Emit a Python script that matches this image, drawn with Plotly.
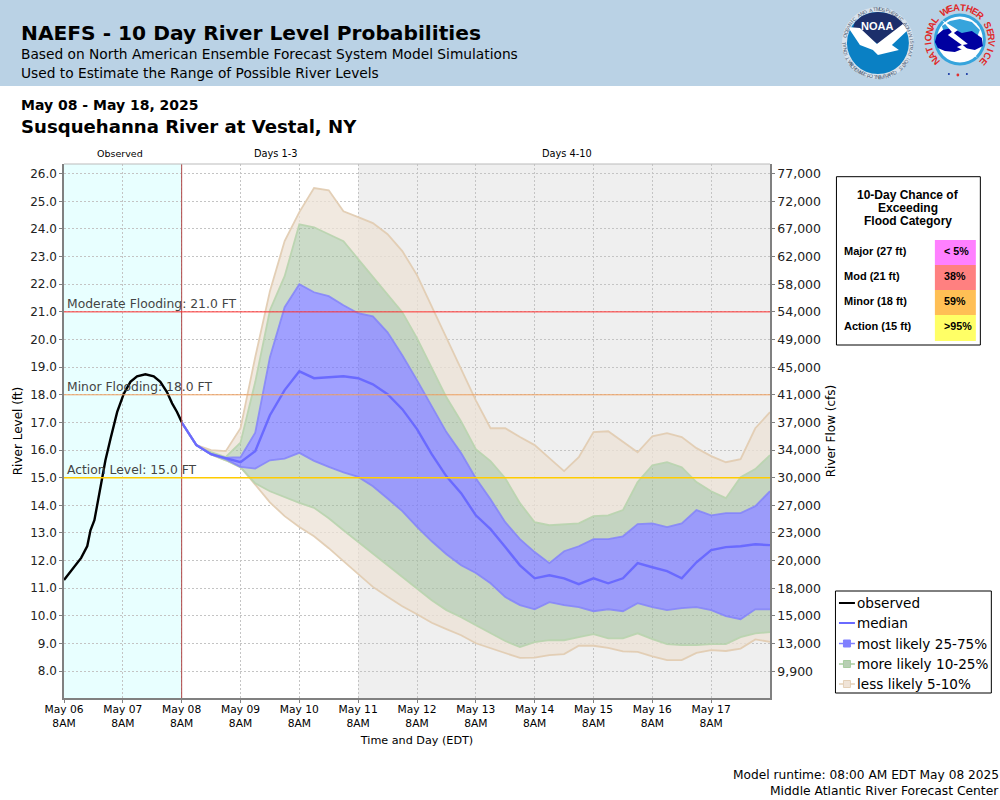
import math
import pandas as pd
import plotly.graph_objects as go

TITLE = "NAEFS - 10 Day River Level Probabilities"
SUB1 = "Based on North American Ensemble Forecast System Model Simulations"
SUB2 = "Used to Estimate the Range of Possible River Levels"
DATES = "May 08 - May 18, 2025"
STATION = "Susquehanna River at Vestal, NY"

obs_hours = [0, 3.3, 7, 9.5, 10.8, 12.4, 14, 15.6, 16.9, 19, 21.7, 24.4, 27.1, 29.8, 33.2, 36.6, 39.3, 42, 44.1, 46.1, 48]
observed = [11.3, 11.68, 12.1, 12.53, 13.1, 13.46, 14.19, 14.91, 15.63, 16.42, 17.38, 18.04, 18.47, 18.67, 18.74, 18.67, 18.47, 18.1, 17.69, 17.38, 17.02]

p95 = [17.0, 16.18, 16.0, 15.96, 16.79, 19.36, 21.75, 23.56, 24.61, 25.48, 25.4, 24.64, 24.43, 24.21, 23.81, 23.2, 22.33, 21.2, 20.05, 18.89, 17.8, 16.79, 16.79, 16.47, 16.18, 15.71, 15.24, 15.74, 16.65, 16.68, 16.29, 15.92, 16.5, 16.61, 16.47, 16.07, 15.78, 15.56, 15.67, 16.79, 17.37]
p90 = [17.0, 16.18, 15.93, 15.75, 16.27, 18.46, 21.06, 22.29, 24.17, 24.06, 23.81, 23.56, 22.91, 22.26, 21.6, 20.99, 20.05, 19.0, 17.91, 17.04, 16.03, 15.6, 14.98, 14.08, 13.39, 13.28, 13.32, 13.35, 13.61, 13.64, 13.83, 14.84, 15.45, 15.56, 15.38, 14.84, 14.51, 14.26, 15.02, 15.31, 15.82]
p75 = [17.0, 16.18, 15.88, 15.73, 15.74, 16.63, 19.36, 21.17, 22.0, 21.71, 21.57, 21.24, 20.95, 20.84, 20.26, 19.43, 18.53, 17.59, 16.65, 15.89, 14.98, 14.22, 13.39, 12.78, 12.31, 11.91, 12.34, 12.52, 12.78, 12.78, 12.88, 13.32, 13.35, 13.21, 13.35, 13.83, 13.64, 13.72, 13.72, 13.97, 14.51]
median = [17.0, 16.18, 15.85, 15.71, 15.56, 15.96, 17.26, 18.17, 18.85, 18.6, 18.64, 18.67, 18.6, 18.38, 18.02, 17.48, 16.76, 15.85, 15.05, 14.44, 13.64, 13.14, 12.49, 11.83, 11.36, 11.47, 11.36, 11.15, 11.36, 11.18, 11.36, 11.91, 11.76, 11.62, 11.36, 11.94, 12.38, 12.49, 12.52, 12.59, 12.56]
p25 = [17.0, 16.18, 15.84, 15.67, 15.39, 15.33, 15.63, 15.69, 15.9, 15.61, 15.39, 15.19, 15.03, 14.69, 14.25, 13.79, 13.22, 12.7, 12.23, 11.83, 11.55, 11.18, 10.68, 10.39, 10.24, 10.5, 10.39, 10.32, 10.17, 10.24, 10.17, 10.46, 10.32, 10.21, 10.28, 10.32, 10.21, 9.99, 9.88, 10.24, 10.24]
p10 = [17.0, 16.18, 15.84, 15.63, 15.37, 14.8, 14.51, 14.3, 14.09, 13.91, 13.53, 13.1, 12.68, 12.23, 11.81, 11.4, 10.97, 10.57, 10.21, 9.95, 9.66, 9.37, 9.09, 8.87, 9.05, 9.12, 9.12, 9.23, 9.34, 9.19, 9.19, 9.37, 9.16, 8.98, 8.94, 8.94, 8.98, 8.98, 9.23, 9.37, 9.41]
p5 = [17.0, 16.18, 15.84, 15.63, 15.39, 14.73, 14.11, 13.61, 13.22, 12.88, 12.45, 11.98, 11.51, 11.05, 10.69, 10.35, 10.06, 9.75, 9.52, 9.3, 9.01, 8.83, 8.65, 8.48, 8.49, 8.58, 8.62, 8.92, 8.92, 8.84, 8.72, 8.7, 8.54, 8.4, 8.4, 8.66, 8.76, 8.73, 8.82, 9.15, 9.06]

stage_ticks = [8, 9, 10, 11, 12, 13, 14, 15, 16, 17, 18, 19, 20, 21, 22, 23, 24, 25, 26]
flow_labels = ["9,900", "13,000", "15,000", "18,000", "20,000", "23,000", "27,000", "30,000", "34,000", "37,000", "41,000", "45,000", "49,000", "54,000", "58,000", "62,000", "67,000", "72,000", "77,000"]
day_ticks = ["May 06", "May 07", "May 08", "May 09", "May 10", "May 11", "May 12", "May 13", "May 14", "May 15", "May 16", "May 17"]

thresholds = [("Moderate Flooding: 21.0 FT", 21.0, "#FF3030", 1), ("Minor Flooding: 18.0 FT", 18.0, "#EFA060", 1), ("Action Level: 15.0 FT", 15.0, "#FFCC00", 1.4)]
flood_rows = ["Major (27 ft)", "Mod (21 ft)", "Minor (18 ft)", "Action (15 ft)"]
flood_chance = ["< 5%", "38%", "59%", ">95%"]
flood_colors = ["#FF80FF", "#FF8080", "#FFBF55", "#FFFF66"]
legend_names = ["observed", "median", "most likely 25-75%", "more likely 10-25%", "less likely 5-10%"]

L, R, T, B = 63.5, 770.0, 164.0, 698.0
def px(v): return (v - L) / (R - L)
def py(v): return (B - v) / (B - T)

start = pd.Timestamp("2025-05-06 08:00")
now = pd.Timestamp("2025-05-08 08:00")
end = pd.Timestamp("2025-05-18 08:00")
d3 = pd.Timestamp("2025-05-11 08:00")
fc_times = pd.date_range(now, end, freq="6h")
obs_times = [start + pd.Timedelta(hours=h) for h in obs_hours]
tick_times = [start + pd.Timedelta(days=i) for i in range(len(day_ticks))]

BLUE_F = "rgba(120,120,255,0.70)"
GREEN_F = "rgba(163,190,157,0.56)"
BEIGE_F = "rgba(236,226,214,0.75)"
BLUE_L = "rgba(130,130,250,0.85)"
GREEN_L = "rgba(185,212,175,0.95)"
BEIGE_L = "rgba(226,204,178,0.95)"
FONT = "DejaVu Sans"

fig = go.Figure()
bands = [("5%", p5, BEIGE_L, None, None), ("10%", p10, GREEN_L, "tonexty", BEIGE_F), ("25%", p25, BLUE_L, "tonexty", GREEN_F),
         ("75%", p75, BLUE_L, "tonexty", BLUE_F), ("90%", p90, GREEN_L, "tonexty", GREEN_F), ("95%", p95, BEIGE_L, "tonexty", BEIGE_F)]
for name, vals, lc, fill, fc in bands:
    fig.add_trace(go.Scatter(x=fc_times, y=vals, name=name, mode="lines", line=dict(color=lc, width=1.8),
                             fill=fill, fillcolor=fc, showlegend=False))
fig.add_trace(go.Scatter(x=fc_times, y=median, name="median", mode="lines", line=dict(color="#6A6AFF", width=2.4), showlegend=False))
fig.add_trace(go.Scatter(x=obs_times, y=observed, name="observed", mode="lines", line=dict(color="#000000", width=2.4), showlegend=False))
fig.add_trace(go.Scatter(x=[start], y=[None], yaxis="y2", showlegend=False, hoverinfo="skip"))

shapes, ann = [], []
def rect(x0, y0, x1, y1, fill=None, line=None, w=1, layer="below"):
    shapes.append(dict(type="rect", xref="paper", yref="paper", x0=px(x0), x1=px(x1), y0=py(y0), y1=py(y1),
                       fillcolor=fill, line=dict(color=line, width=w if line else 0), layer=layer))
def pline(x0, y0, x1, y1, color, w=1, layer="above"):
    shapes.append(dict(type="line", xref="paper", yref="paper", x0=px(x0), x1=px(x1), y0=py(y0), y1=py(y1),
                       line=dict(color=color, width=w), layer=layer))
def circle(cx, cy, r, fill, layer="above"):
    rect(cx - r, cy - r, cx + r, cy + r, fill=fill, layer=layer)
    shapes[-1]["type"] = "circle"
def poly(pts, fill):
    d = "M " + " L ".join(f"{px(a):.5f},{py(b):.5f}" for a, b in pts) + " Z"
    shapes.append(dict(type="path", xref="paper", yref="paper", path=d, fillcolor=fill, line=dict(width=0), layer="above"))
def text(x, y, s, size=12, color="#000", anchor="left", family=FONT, angle=0):
    ann.append(dict(xref="paper", yref="paper", x=px(x), y=py(y), text=s, showarrow=False, xanchor=anchor, yanchor="middle",
                    font=dict(family=family, size=size, color=color), textangle=angle, borderpad=0, borderwidth=0))

# header
rect(-10, -10, 1010, 86, fill="#BAD2E5")
text(20, 33, f"<b>{TITLE}</b>", 20.2)
text(20, 54, SUB1, 13.75)
text(20, 73, SUB2, 13.75)
text(20, 105, f"<b>{DATES}</b>", 14)
text(20, 126, f"<b>{STATION}</b>", 18.1)

# plot-region backgrounds
shapes.append(dict(type="rect", xref="x", yref="paper", x0=start, x1=now, y0=0, y1=1, fillcolor="#E8FFFF", line=dict(width=0), layer="below"))
shapes.append(dict(type="rect", xref="x", yref="paper", x0=d3, x1=end, y0=0, y1=1, fillcolor="#EFEFEF", line=dict(width=0), layer="below"))
shapes.append(dict(type="line", xref="x", yref="paper", x0=now, x1=now, y0=0, y1=1, line=dict(color="#B04848", width=1), layer="above"))
pline(L, T, R, T, "#BBBBBB", 1)
for label, v, c, w in thresholds:
    shapes.append(dict(type="line", xref="paper", yref="y", x0=0, x1=1, y0=v, y1=v, line=dict(color=c, width=w), layer="above"))
    ann.append(dict(xref="paper", yref="y", x=px(64.5), y=v, yshift=7.5, text=label, showarrow=False, xanchor="left", yanchor="middle",
                    font=dict(family=FONT, size=12.35, color="#444444")))
text(120, 154, "Observed", 9.5, anchor="center")
text(276, 154, "Days 1-3", 9.8, anchor="center")
text(566.5, 154, "Days 4-10", 9.8, anchor="center")

# flood table
rect(836.5, 176.7, 980.5, 345, fill="#FFFFFF", line="#000000", w=1, layer="above")
AR = "Liberation Sans"
for i, s in enumerate(["10-Day Chance of", "Exceeding", "Flood Category"]):
    text(908, 194.5 + i * 13.2, f"<b>{s}</b>", 12, anchor="center", family=AR)
tops = [240, 265, 290, 315, 341]
for i in range(4):
    rect(935, tops[i], 976, tops[i + 1], fill=flood_colors[i], layer="above")
    ym = 251 + i * 25
    text(844.5, ym, f"<b>{flood_rows[i]}</b>", 11, family=AR)
    text(944.5, ym, f"<b>{flood_chance[i]}</b>", 10.7, family=AR)

# legend
rect(835.5, 591, 991.5, 693, fill="#FFFFFF", line="#000000", w=1, layer="above")
ly = [603, 623, 643.5, 664, 684]
lc = ["#000000", "#6A6AFF", "#8080FF", "#A8CCA0", "#E4D0B8"]
sq = [None, None, "#8080FF", "#B8CFB4", "#F0E4D8"]
for i, n in enumerate(legend_names):
    pline(839, ly[i], 855, ly[i], lc[i], 2 if i < 2 else 1.5)
    if sq[i]:
        rect(843.5, ly[i] - 3.5, 850.5, ly[i] + 3.5, fill=sq[i], line=lc[i], w=1, layer="above")
    text(857, ly[i], n, 13.6)

# footer
text(999, 775, "Model runtime: 08:00 AM EDT May 08 2025", 12.2, anchor="right")
text(999, 791, "Middle Atlantic River Forecast Center", 12.3, anchor="right")

# NOAA emblem
cx, cy = 878, 43
circle(cx, cy, 36, "#D8E2EC")
circle(cx, cy, 31, "#0A80C4")
poly([(855, 22), (862, 16), (870, 13), (878, 12), (886, 13), (895, 16), (902, 22), (905, 26), (878, 44), (853, 28)], "#1C2F6B")
poly([(848, 27), (860, 28), (877, 44), (903, 24), (908, 30), (892, 45), (899, 50), (878, 55), (873, 50), (860, 45)], "#FFFFFF")
text(cx - 0.5, 26, "<b>NOAA</b>", 11, color="#FFFFFF", anchor="center", family=AR)
top_txt = "NATIONAL OCEANIC AND ATMOSPHERIC ADMINISTRATION"
for i, ch in enumerate(top_txt):
    th = -128 + 256 * i / (len(top_txt) - 1)
    text(cx + 34 * math.sin(math.radians(th)), cy - 34 * math.cos(math.radians(th)), ch, 5, "#4A5A70", "center", AR, th)
bot_txt = "U.S. DEPARTMENT OF COMMERCE"
for i, ch in enumerate(bot_txt):
    th = 50 - 100 * i / (len(bot_txt) - 1)
    text(cx + 34 * math.sin(math.radians(th)), cy + 34 * math.cos(math.radians(th)), ch, 5, "#4A5A70", "center", AR, -th)

# NWS emblem
cx, cy = 960, 39.5
circle(cx, cy, 26, "#36A4DC")
circle(cx, cy, 23, "#FFFFFF")
poly([(942, 26), (950, 21), (960, 19), (972, 22), (980, 30), (978, 35), (945, 35)], "#36A4DC")
poly([(935, 42), (937, 35), (943, 30), (952, 28), (962, 33), (972, 31), (982, 38), (983, 46), (975, 50), (965, 48), (955, 52), (945, 51), (938, 48)], "#0000A0")
poly([(942, 20), (958, 30), (954, 33), (968, 44), (963, 45), (978, 58), (957, 47), (962, 45), (948, 35), (952, 32)], "#FFFFFF")
ring = "NATIONAL WEATHER SERVICE"
for i, ch in enumerate(ring):
    th = -132 + 264 * i / (len(ring) - 1)
    if ch != " ":
        text(cx + 32 * math.sin(math.radians(th)), cy - 32 * math.cos(math.radians(th)), f"<b>{ch}</b>", 9.5, "#E02828", "center", AR, th)
circle(949, 74, 1, "#1030A0")
circle(958, 75, 1.4, "#E03030")
circle(967, 74, 1, "#1030A0")

common = dict(tickfont=dict(family=FONT, size=12, color="#222222"), ticks="outside", ticklen=3, tickcolor="#808080", tickwidth=1,
              showline=True, linecolor="#808080", linewidth=1.5, zeroline=False)
GRID = dict(showgrid=True, gridcolor="#C4C4C4", griddash="2px,2px", gridwidth=1)
fig.update_layout(
    width=1000, height=800, autosize=False, showlegend=False,
    margin=dict(l=L, r=1000 - R, t=T, b=800 - B, pad=0),
    paper_bgcolor="#FFFFFF", plot_bgcolor="#FFFFFF",
    font=dict(family=FONT, color="#000000"),
    xaxis=dict(range=[start, end], type="date", tickmode="array", tickvals=tick_times,
               ticktext=[f"{d}<br>8AM" for d in day_ticks], ticklabelstandoff=-3,
               title=dict(text="Time and Day (EDT)", font=dict(family=FONT, size=11.2), standoff=8),
               **GRID, **{**common, "tickfont": dict(family=FONT, size=10.7, color="#000000")}),
    yaxis=dict(range=[7.03, 26.35], tickmode="array", tickvals=stage_ticks, ticktext=[f"{v:.1f}" for v in stage_ticks],
               title=dict(text="River Level (ft)", font=dict(family=FONT, size=12), standoff=5),
               **GRID, **common),
    yaxis2=dict(range=[7.03, 26.35], overlaying="y", side="right", tickmode="array", tickvals=stage_ticks, ticktext=flow_labels,
                title=dict(text="River Flow (cfs)", font=dict(family=FONT, size=12), standoff=7),
                showgrid=False, **{**common, "tickfont": dict(family=FONT, size=12.5, color="#222222")}),
    shapes=shapes, annotations=ann,
)
fig.write_html("out.html", config={"displayModeBar": False},
               post_script="document.body.style.margin='0';document.body.style.overflow='hidden';")
